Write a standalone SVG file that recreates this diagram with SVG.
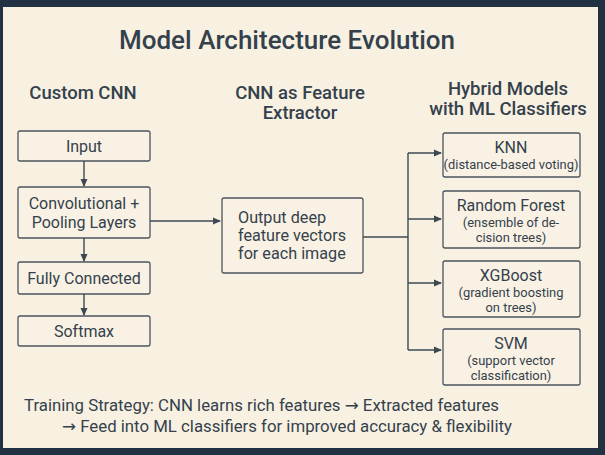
<svg xmlns="http://www.w3.org/2000/svg" width="605" height="455" viewBox="0 0 605 455">
<defs>
<marker id="ah" markerWidth="8" markerHeight="8" refX="7" refY="4" orient="auto" markerUnits="userSpaceOnUse">
<path d="M0,0.5 L8,4 L0,7.5 Z" fill="#3d4852"/>
</marker>
<style>
.box{fill:#f9f2e4;stroke:#4a545e;stroke-width:1.3}
.t{font-family:Roboto,"Liberation Sans",sans-serif;fill:#34414c}
.h{font-size:18.5px;font-weight:500;text-anchor:middle}
.n{font-size:16px;text-anchor:middle}
.s{font-size:12.9px;text-anchor:middle}
.c{fill:none;stroke:#3d4852;stroke-width:1.4}
.ar{font-family:"DejaVu Sans",sans-serif}
</style>
</defs>
<rect x="0" y="0" width="605" height="455" fill="#223142"/>
<rect x="3" y="7" width="595" height="441" fill="#f8f1e2"/>
<text class="t" x="287" y="49" font-size="26" font-weight="500" text-anchor="middle">Model Architecture Evolution</text>
<text class="t h" x="83" y="99">Custom CNN</text>
<text class="t h" x="300" y="99">CNN as Feature</text>
<text class="t h" x="300" y="119">Extractor</text>
<text class="t h" x="508" y="95">Hybrid Models</text>
<text class="t h" x="508" y="115">with ML Classifiers</text>

<g id="input"><rect class="box" x="18" y="131" width="132" height="30" rx="2"/><text class="t n" x="84" y="152">Input</text></g>
<g id="conv"><rect class="box" x="18" y="187" width="132" height="51" rx="2"/><text class="t n" x="84" y="209">Convolutional +</text><text class="t n" x="84" y="228">Pooling Layers</text></g>
<g id="fc"><rect class="box" x="18" y="262" width="132" height="32" rx="2"/><text class="t n" x="84" y="284">Fully Connected</text></g>
<g id="softmax"><rect class="box" x="18" y="316" width="132" height="30" rx="2"/><text class="t n" x="84" y="337">Softmax</text></g>

<g id="extractor"><rect class="box" x="222" y="198" width="141" height="75" rx="2"/>
<text class="t" font-size="16.2" x="238" y="223">Output deep</text>
<text class="t" font-size="16.2" x="238" y="241">feature vectors</text>
<text class="t" font-size="16.2" x="238" y="259">for each image</text></g>

<g id="knn"><rect class="box" x="443" y="133" width="137" height="44" rx="2"/><text class="t n" x="511" y="153">KNN</text><text class="t s" x="511" y="169" font-size="12.3">(distance-based voting)</text></g>
<g id="rf"><rect class="box" x="443" y="191" width="137" height="57" rx="2"/><text class="t n" x="511" y="211">Random Forest</text><text class="t s" x="511" y="227">(ensemble of de-</text><text class="t s" x="511" y="242">cision trees)</text></g>
<g id="xgb"><rect class="box" x="443" y="261" width="137" height="56" rx="2"/><text class="t n" x="511" y="281">XGBoost</text><text class="t s" x="511" y="297">(gradient boosting</text><text class="t s" x="511" y="312">on trees)</text></g>
<g id="svm"><rect class="box" x="443" y="329" width="137" height="56" rx="2"/><text class="t n" x="511" y="349">SVM</text><text class="t s" x="511" y="365">(support vector</text><text class="t s" x="511" y="380">classification)</text></g>

<g id="connectors">
<line class="c" x1="84" y1="161" x2="84" y2="186" marker-end="url(#ah)"/>
<line class="c" x1="84" y1="238" x2="84" y2="261" marker-end="url(#ah)"/>
<line class="c" x1="84" y1="294" x2="84" y2="315" marker-end="url(#ah)"/>
<line class="c" x1="150" y1="221" x2="220" y2="221" marker-end="url(#ah)"/>
<polyline class="c" points="363,237 408,237"/>
<line class="c" x1="408" y1="153" x2="408" y2="350"/>
<line class="c" x1="408" y1="153" x2="441" y2="153" marker-end="url(#ah)"/>
<line class="c" x1="408" y1="219" x2="441" y2="219" marker-end="url(#ah)"/>
<line class="c" x1="408" y1="283" x2="441" y2="283" marker-end="url(#ah)"/>
<line class="c" x1="408" y1="350" x2="441" y2="350" marker-end="url(#ah)"/>
</g>

<text class="t" font-size="16.8" x="24" y="411" fill="#3a4650">Training Strategy: CNN learns rich features <tspan class="ar">→</tspan> Extracted features</text>
<text class="t" font-size="16.8" x="62" y="432" fill="#3a4650"><tspan class="ar">→</tspan> Feed into ML classifiers for improved accuracy &amp; flexibility</text>
</svg>
